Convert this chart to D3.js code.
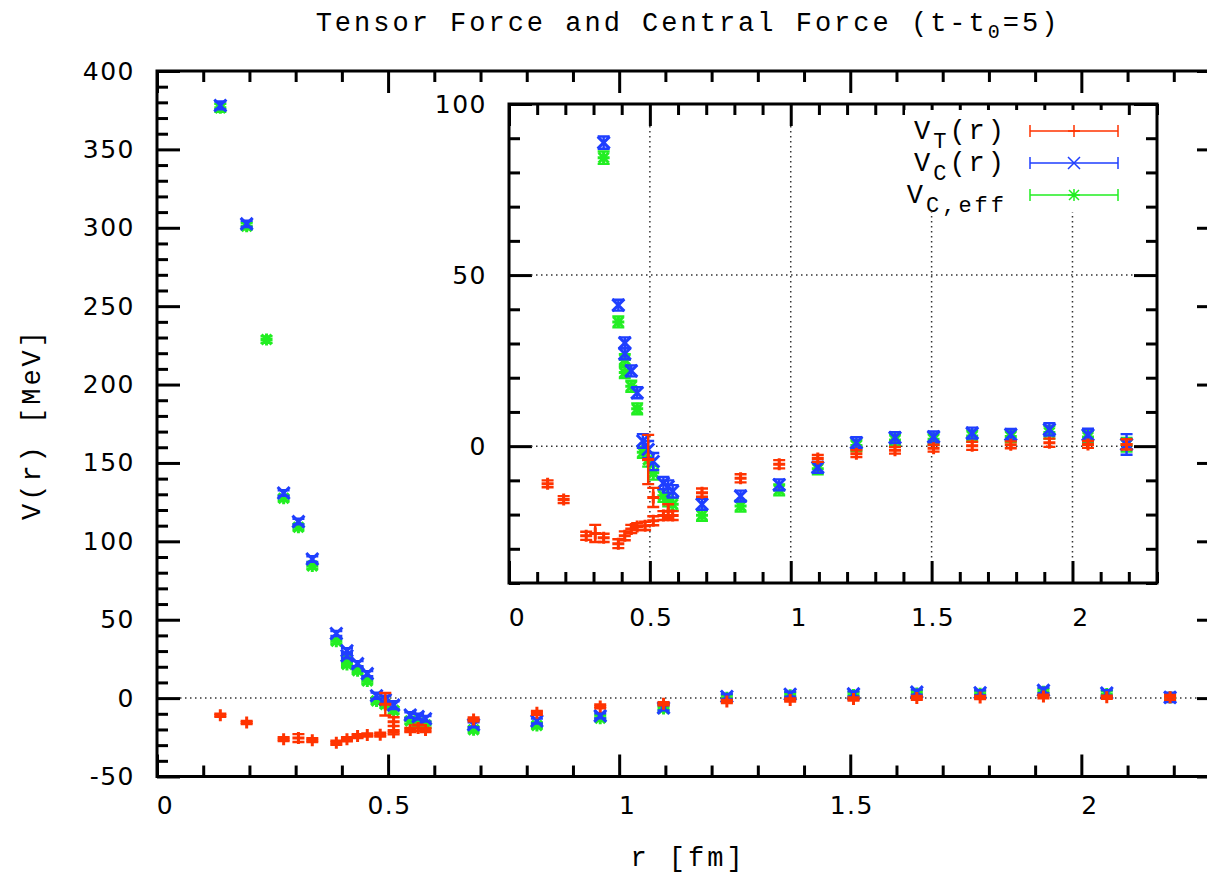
<!DOCTYPE html>
<html lang="en">
<head>
<meta charset="UTF-8">
<title>Tensor Force and Central Force</title>
<script src="https://d3js.org/d3.v7.min.js"></script>
<style>
  body { margin: 0; background: #fff; overflow: hidden; }
  svg { display: block; }
  .frame { fill: none; stroke: #000; stroke-width: 3; }
  .axis .domain { display: none; }
  .axis line { stroke: #000; stroke-width: 3; }
  .axis text { font-family: "DejaVu Sans", sans-serif; font-size: 25px; letter-spacing: 1.5px; fill: #000; }
  .mono { font-family: "Liberation Mono", "DejaVu Sans Mono", monospace; font-size: 27px; letter-spacing: 3px; fill: #000; }
  .dots { stroke: #333; stroke-width: 1.5; stroke-dasharray: 1.5 3.5; fill: none; }
</style>
</head>
<body>
<svg id="chart" width="1207" height="874"></svg>
<script>
// V_T(r)  (red)
const rT = [0.137, 0.194, 0.274, 0.306, 0.336, 0.388, 0.411, 0.434, 0.455, 0.483, 0.494, 0.512, 0.512,
            0.548, 0.565, 0.581, 0.685, 0.822, 0.959, 1.096, 1.233, 1.370, 1.507, 1.644, 1.781, 1.918, 2.055, 2.192];
const vT = [-11.0, -15.6, -26.2, -25.5, -26.8, -28.5, -26.2, -24.2, -23.5, -23.3, -3.9, -21.8, -15.0,
            -20.3, -19.0, -20.3, -13.6, -9.4, -5.3, -3.6, -2.2, -1.2, -0.6, 0.1, 0.4, 1.0, 0.5, 0.5];
const eT = [1.0, 1.0, 1.2, 2.5, 1.2, 1.3, 1.3, 1.2, 1.0, 1.2, 7.2, 1.3, 2.8,
            1.3, 2.0, 1.3, 1.2, 1.2, 1.2, 1.0, 1.0, 1.0, 1.0, 1.2, 1.0, 1.2, 1.0, 1.5];

// V_C(r)  (blue)
const rC = [0.137, 0.194, 0.274, 0.306, 0.336, 0.388, 0.411, 0.411, 0.434, 0.455, 0.475, 0.494, 0.512,
            0.548, 0.565, 0.581, 0.685, 0.822, 0.959, 1.096, 1.233, 1.370, 1.507, 1.644, 1.781, 1.918, 2.055, 2.192];
const vC = [378.0, 302.5, 130.8, 112.6, 88.7, 41.2, 30.2, 27.0, 22.0, 15.6, 1.5, -1.0, -4.5,
            -10.8, -11.8, -13.2, -17.0, -14.6, -11.3, -6.2, 1.0, 2.5, 2.7, 3.8, 3.4, 4.9, 3.3, 0.5];
const eC = [2.5, 2.0, 1.8, 1.8, 1.8, 1.6, 1.6, 1.6, 1.6, 1.6, 2.0, 2.5, 2.5,
            1.8, 1.8, 1.8, 1.6, 1.6, 1.6, 1.6, 1.6, 1.6, 1.6, 1.6, 1.6, 1.8, 1.8, 3.0];

// V_C,eff  (green)
const rE = [0.137, 0.194, 0.237, 0.274, 0.306, 0.336, 0.388, 0.411, 0.411, 0.434, 0.455, 0.475, 0.494, 0.512,
            0.548, 0.565, 0.581, 0.685, 0.822, 0.959, 1.096, 1.233, 1.370, 1.507, 1.644, 1.781, 1.918, 2.055, 2.192];
const vE = [376.5, 301.0, 228.7, 127.5, 109.0, 84.3, 36.3, 25.3, 21.5, 17.5, 10.9, -1.8, -4.0, -7.8,
            -14.5, -15.8, -17.0, -20.2, -17.5, -12.8, -6.6, 0.2, 1.8, 2.0, 3.0, 2.8, 4.0, 2.7, 0.4];
const eE = [2.5, 2.0, 2.0, 1.8, 1.8, 1.8, 1.6, 1.6, 1.6, 1.6, 1.6, 1.6, 2.0, 2.0,
            1.8, 1.8, 1.8, 1.6, 1.6, 1.6, 1.6, 1.6, 1.6, 1.6, 1.6, 1.6, 1.8, 1.8, 2.0];

const mainXTicks = [0, 0.5, 1, 1.5, 2];
const mainYTicks = [-50, 0, 50, 100, 150, 200, 250, 300, 350, 400];
const insetXTicks = [0, 0.5, 1, 1.5, 2];
const insetYTicks = [0, 50, 100];

const zip = (r, v, e) => r.map((d, i) => ({r: d, v: v[i], e: e[i]}));
const series = [
  {name: "T", sub: "T", tail: "(r)", color: "#ff3300", mark: "plus", data: zip(rT, vT, eT)},
  {name: "C", sub: "C", tail: "(r)", color: "#1f3fff", mark: "cross", data: zip(rC, vC, eC)},
  {name: "E", sub: "C,eff", tail: "", color: "#22ee22", mark: "star", data: zip(rE, vE, eE)}
];
const markPath = {
  plus: "M-6,0H6M0,-6V6",
  cross: "M-6,-6L6,6M-6,6L6,-6",
  star: "M-6,0H6M0,-6V6M-5,-5L5,5M-5,5L5,-5"
};

const svg = d3.select("#chart");

function frame(g, x, y, xTicks, yTicks, xMinor, yMinor, labelDy) {
  const [x0, x1] = x.range(), [y0, y1] = y.range();
  g.append("rect").attr("x", x0).attr("y", y1).attr("width", x1 - x0).attr("height", y0 - y1)
    .attr("fill", "#fff");
  const bottom = g.append("g").attr("class", "axis").attr("transform", `translate(0,${y0})`)
    .call(d3.axisBottom(x).tickValues(xTicks).tickSizeInner(-22).tickSizeOuter(0)
      .tickPadding(labelDy).tickFormat(d => String(d)));
  bottom.selectAll("text").attr("dx", d => String(d).length === 1 ? 8 : 1);
  g.append("g").attr("class", "axis").attr("transform", `translate(0,${y0})`)
    .call(d3.axisBottom(x).tickValues(xMinor).tickSizeInner(-11).tickSizeOuter(0).tickFormat(""));
  g.append("g").attr("class", "axis").attr("transform", `translate(0,${y1})`)
    .call(d3.axisTop(x).tickValues(xTicks).tickSizeInner(-22).tickSizeOuter(0).tickFormat(""));
  g.append("g").attr("class", "axis").attr("transform", `translate(0,${y1})`)
    .call(d3.axisTop(x).tickValues(xMinor).tickSizeInner(-11).tickSizeOuter(0).tickFormat(""));
  g.append("g").attr("class", "axis").attr("transform", `translate(${x0},0)`)
    .call(d3.axisLeft(y).tickValues(yTicks).tickSizeInner(-23).tickSizeOuter(0)
      .tickPadding(22).tickFormat(d => String(d)));
  g.append("g").attr("class", "axis").attr("transform", `translate(${x0},0)`)
    .call(d3.axisLeft(y).tickValues(yMinor).tickSizeInner(-11).tickSizeOuter(0).tickFormat(""));
  g.append("g").attr("class", "axis").attr("transform", `translate(${x1},0)`)
    .call(d3.axisRight(y).tickValues(yTicks).tickSizeInner(-23).tickSizeOuter(0).tickFormat(""));
  g.append("g").attr("class", "axis").attr("transform", `translate(${x1},0)`)
    .call(d3.axisRight(y).tickValues(yMinor).tickSizeInner(-11).tickSizeOuter(0).tickFormat(""));
}

function drawSeries(g, x, y, s, lw) {
  const pts = g.append("g").attr("stroke", s.color).attr("stroke-width", lw).attr("fill", "none");
  const p = pts.selectAll("g").data(s.data).join("g")
    .attr("transform", d => `translate(${x(d.r)},0)`);
  p.append("path").attr("d", d => {
    const a = y(d.v + d.e), b = y(d.v - d.e);
    return `M0,${a}V${b}M-6,${a}H6M-6,${b}H6`;
  });
  p.append("path").attr("d", markPath[s.mark]).attr("stroke-width", lw + 0.6)
    .attr("transform", d => `translate(0,${y(d.v)})`);
}

// ---------- main plot ----------
const x = d3.scaleLinear().domain([0, 2.3]).range([157, 1220]);
const y = d3.scaleLinear().domain([-50, 400]).range([776.5, 71]);
const mainG = svg.append("g");
frame(mainG, x, y, mainXTicks, mainYTicks,
  d3.range(0, 24).filter(i => i % 5 !== 0).map(i => i / 10),
  d3.range(-50, 401, 10).filter(v => v % 50 !== 0), 20);
mainG.append("line").attr("class", "dots")
  .attr("x1", x(0) + 23).attr("x2", x(2.3) - 23).attr("y1", y(0)).attr("y2", y(0));
[series[2], series[1], series[0]].forEach(s => drawSeries(mainG, x, y, s, 2.4));
mainG.append("rect").attr("class", "frame")
  .attr("x", 157).attr("y", 71).attr("width", 1220 - 157).attr("height", 776.5 - 71);

// ---------- inset ----------
const xi = d3.scaleLinear().domain([0, 2.3]).range([509, 1157]);
const yi = d3.scaleLinear().domain([-40, 100]).range([583, 104]);
const insetG = svg.append("g");
frame(insetG, xi, yi, insetXTicks, insetYTicks,
  d3.range(0, 24).filter(i => i % 5 !== 0).map(i => i / 10),
  d3.range(-40, 101, 10).filter(v => v % 50 !== 0), 25);
insetG.append("g").selectAll("line").data([0.5, 1, 1.5, 2]).join("line").attr("class", "dots")
  .attr("x1", d => xi(d)).attr("x2", d => xi(d)).attr("y1", yi(100) + 22).attr("y2", yi(-40) - 22);
insetG.append("g").selectAll("line").data([0, 50]).join("line").attr("class", "dots")
  .attr("x1", xi(0) + 22).attr("x2", xi(2.3) - 22).attr("y1", d => yi(d)).attr("y2", d => yi(d));

// key sits on a white patch over the grid
const keyG = insetG.append("g");
keyG.append("rect").attr("x", 905).attr("y", 110).attr("width", 222).attr("height", 102).attr("fill", "#fff");

svg.append("clipPath").attr("id", "insetClip").append("rect")
  .attr("x", 509).attr("y", 104).attr("width", 1157 - 509).attr("height", 583 - 104);
const insetData = insetG.append("g").attr("clip-path", "url(#insetClip)");
[series[2], series[1], series[0]].forEach(s => drawSeries(insetData, xi, yi, s, 2.4));

const keyRows = [131, 163, 195];
series.forEach((s, i) => {
  const ky = keyRows[i];
  const t = keyG.append("text").attr("class", "mono").attr("x", 1007).attr("y", ky + 8)
    .attr("text-anchor", "end");
  t.append("tspan").text("V");
  t.append("tspan").attr("dy", 9).attr("font-size", 22).text(s.sub);
  if (s.tail) t.append("tspan").attr("dy", -9).text(s.tail);
  const k = keyG.append("g").attr("stroke", s.color).attr("stroke-width", 1.5).attr("fill", "none");
  k.append("path").attr("d", `M1030,${ky}H1118M1030,${ky - 6}V${ky + 6}M1118,${ky - 6}V${ky + 6}`);
  k.append("path").attr("d", markPath[s.mark]).attr("transform", `translate(1074,${ky})`);
});

insetG.append("rect").attr("class", "frame")
  .attr("x", 509).attr("y", 104).attr("width", 1157 - 509).attr("height", 583 - 104);

// ---------- titles ----------
const title = svg.append("text").attr("class", "mono").attr("x", 688).attr("y", 31)
  .attr("text-anchor", "middle");
title.append("tspan").text("Tensor Force and Central Force (t-t");
title.append("tspan").attr("dy", 7).attr("font-size", 20).text("0");
title.append("tspan").attr("dy", -7).text("=5)");

svg.append("text").attr("class", "mono").attr("text-anchor", "middle")
  .attr("x", 688).attr("y", 866).text("r [fm]");
svg.append("text").attr("class", "mono").attr("text-anchor", "middle")
  .attr("transform", "translate(40,424) rotate(-90)").text("V(r) [MeV]");
</script>
</body>
</html>
